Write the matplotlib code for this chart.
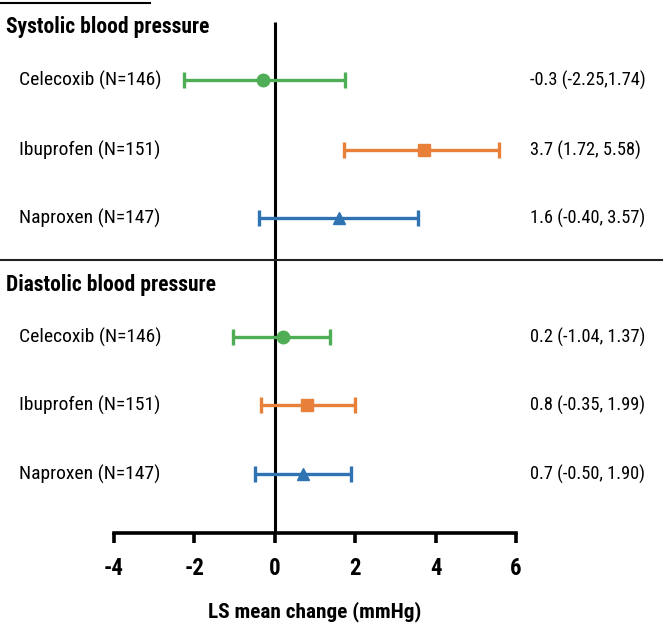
import matplotlib
matplotlib.use("Agg")
import matplotlib.pyplot as plt
from matplotlib.lines import Line2D
import matplotlib.transforms as mt

plt.rcParams['font.family'] = ['Roboto Condensed', 'Liberation Sans', 'DejaVu Sans']

sections = ["Systolic blood pressure", "Diastolic blood pressure"]
drugs = ["Celecoxib (N=146)", "Ibuprofen (N=151)", "Naproxen (N=147)"]
means = [[-0.3, 3.7, 1.6], [0.2, 0.8, 0.7]]
lows = [[-2.25, 1.72, -0.40], [-1.04, -0.35, -0.50]]
highs = [[1.74, 5.58, 3.57], [1.37, 1.99, 1.90]]
ci_text = [["-0.3 (-2.25,1.74)", "3.7 (1.72, 5.58)", "1.6 (-0.40, 3.57)"],
           ["0.2 (-1.04, 1.37)", "0.8 (-0.35, 1.99)", "0.7 (-0.50, 1.90)"]]
xticks = [-4, -2, 0, 2, 4, 6]
xlabel = "LS mean change (mmHg)"

colors = ["#4fae55", "#e8803a", "#2f73b3"]
markers = ["o", "s", "^"]
msizes = [9, 8.5, 8]

W, H = 666, 629
fig = plt.figure(figsize=(W/100, H/100), dpi=100)
ax = fig.add_axes([114/W, 1-533/H, (516-114)/W, 533/H])
ax.set_xlim(-4, 6)
ax.set_ylim(533, 0)
for s in ["top", "right", "left"]:
    ax.spines[s].set_visible(False)
ax.spines["bottom"].set_linewidth(2.6)
ax.spines["bottom"].set_bounds(-4, 6)
ax.set_yticks([])
ax.set_xticks(xticks)
ax.set_xticklabels([str(t) for t in xticks], fontsize=16.5, fontweight="bold")
ax.tick_params(axis="x", direction="out", length=7, width=2.6, pad=10)
ax.set_xlabel(xlabel, fontsize=15.3, fontweight="bold")
ax.xaxis.set_label_coords(0.5, (533 - 612) / 533)
ax.xaxis.label.set_va("center")
ax.patch.set_visible(False)

ax.plot([0, 0], [22, 533], color="black", lw=2.2, solid_capstyle="butt")

row_y = [[80, 150, 218], [337, 405, 474]]
title_y = [27, 285]

trans = mt.blended_transform_factory(fig.transFigure, ax.transData)

for si in range(2):
    ax.text(6/W, title_y[si], sections[si], transform=trans, fontsize=15.5,
            fontweight="bold", ha="left", va="center")
    for di in range(3):
        y = row_y[si][di]
        m = means[si][di]
        ax.errorbar([m], [y], xerr=[[m - lows[si][di]], [highs[si][di] - m]],
                    fmt=markers[di], color=colors[di], ms=msizes[di],
                    elinewidth=2.4, capsize=5.5, capthick=2.4, zorder=3)
        ax.text(19/W, y, drugs[di], transform=trans, fontsize=14,
                ha="left", va="center")
        ax.text(530/W, y, ci_text[si][di], transform=trans, fontsize=13.2,
                ha="left", va="center")

fig.add_artist(Line2D([0, 150/W], [1-3/H, 1-3/H], color="black", lw=1.5,
                      transform=fig.transFigure))
fig.add_artist(Line2D([0, 662/W], [1-260/H, 1-260/H], color="#222222", lw=1.5,
                      transform=fig.transFigure))

fig.savefig("out.png", dpi=100)
